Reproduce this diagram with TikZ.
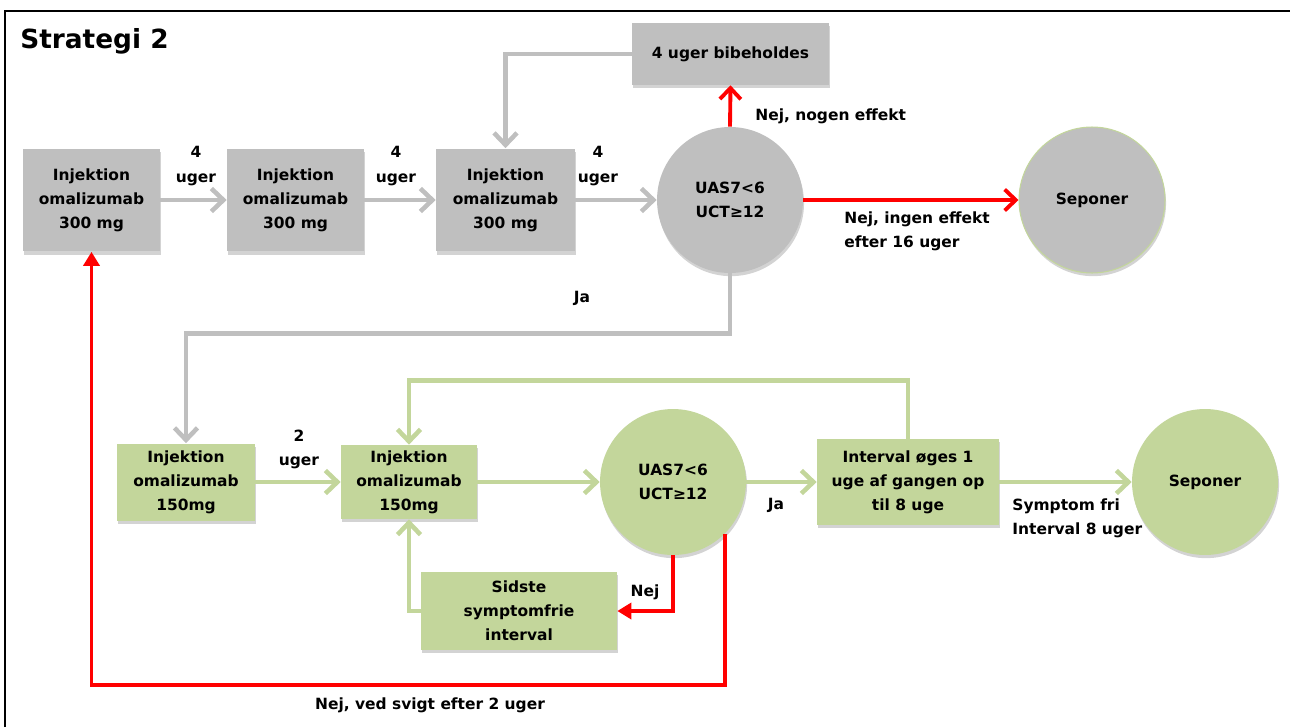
\documentclass[tikz,border=0pt]{standalone}
\usepackage{fontspec}
\setmainfont{DejaVu Sans}
\usepackage{tikz}
\usetikzlibrary{shadows, arrows.meta, positioning, shapes}

\definecolor{boxgray}{HTML}{BFBFBF}
\definecolor{boxgreen}{HTML}{C3D69B}
\definecolor{linered}{HTML}{FF0000}

\tikzset{
  lbl/.style={font=\fontsize{8.8}{13.7}\selectfont\bfseries, align=center, inner sep=0pt},
  graybox/.style={lbl, fill=boxgray, drop shadow={shadow xshift=0.6pt, shadow yshift=-1.8pt, opacity=0.35}},
  greenbox/.style={lbl, fill=boxgreen, drop shadow={shadow xshift=0.6pt, shadow yshift=-1.8pt, opacity=0.35}},
  graycirc/.style={graybox, circle, minimum size=2.92cm},
  greencirc/.style={greenbox, circle, minimum size=2.92cm},
  grayline/.style={draw=boxgray, line width=2.6pt, -{Straight Barb[length=2.4mm, width=4.6mm]}},
  greenline/.style={draw=boxgreen, line width=2.6pt, -{Straight Barb[length=2.4mm, width=4.6mm]}},
  redline/.style={draw=linered, line width=2.2pt, -{Straight Barb[length=2.2mm, width=4.2mm]}},
  redfill/.style={draw=linered, line width=2.2pt, -{Triangle[length=2.8mm, width=3.2mm]}}
}

\begin{document}
\begin{tikzpicture}[x=0.02cm, y=-0.02cm]
  \useasboundingbox (0,0) rectangle (1290,727);
  % frame
  \draw[line width=1.2pt] (5,727) -- (5,11) -- (1290,11);
  \node[anchor=base west, font=\fontsize{15}{18}\selectfont\bfseries, inner sep=0pt] (title) at (20,48) {Strategi 2};

  % upper part, 300 mg
  \node[graybox, minimum width=2.74cm, minimum height=2.06cm] (inj1) at (91.5,200) {Injektion\\omalizumab\\300 mg};
  \node[graybox, minimum width=2.74cm, minimum height=2.06cm] (inj2) at (295.5,200) {Injektion\\omalizumab\\300 mg};
  \node[graybox, minimum width=2.78cm, minimum height=2.06cm] (inj3) at (505.5,200) {Injektion\\omalizumab\\300 mg};
  \node[graycirc] (test1) at (730,200) {UAS7<6\\UCT≥12};
  \node[graybox, minimum width=3.94cm, minimum height=1.24cm] (keep) at (730.5,54) {4 uger bibeholdes};
  \node[graycirc, draw=boxgreen, line width=0.6pt] (stop1) at (1092,200) {Seponer};

  \node[lbl] (w1) at (196,166) {4\\uger};
  \node[lbl] (w2) at (396,166) {4\\uger};
  \node[lbl] (w3) at (598,166) {4\\uger};
  \node[lbl, anchor=west] (nogen) at (755,116) {Nej, nogen effekt};
  \node[lbl, anchor=west, align=left] (ingen) at (844,231) {Nej, ingen effekt\\efter 16 uger};
  \node[lbl] (ja1) at (582,298) {Ja};

  \draw[grayline] (inj1) -- (inj2);
  \draw[grayline] (inj2) -- (inj3);
  \draw[grayline] (inj3) -- (test1);
  \draw[redline] (test1.north) -- (keep.south);
  \draw[grayline] (keep.west) -| (inj3.north);
  \draw[redline] (test1.east) -- (stop1.west);

  % lower part, 150 mg
  \node[greenbox, minimum width=2.76cm, minimum height=1.54cm] (low1) at (186,482) {Injektion\\omalizumab\\150mg};
  \node[greenbox, minimum width=2.72cm, minimum height=1.48cm] (low2) at (409,482) {Injektion\\omalizumab\\150mg};
  \node[greencirc] (test2) at (673,482) {UAS7<6\\UCT≥12};
  \node[greenbox, minimum width=3.92cm, minimum height=1.56cm] (last) at (519,611) {Sidste\\symptomfrie\\interval};
  \node[greenbox, minimum width=3.64cm, minimum height=1.72cm] (incr) at (908,482) {Interval øges 1\\uge af gangen op\\til 8 uge};
  \node[greencirc] (stop2) at (1205,482) {Seponer};

  \node[lbl] (w4) at (299,449) {2\\uger};
  \node[lbl] (ja2) at (776,505) {Ja};
  \node[lbl, anchor=west, align=left] (fri) at (1012,518) {Symptom fri\\Interval 8 uger};
  \node[lbl] (nej) at (645,592) {Nej};
  \node[lbl] (svigt) at (430,705) {Nej, ved svigt efter 2 uger};

  \draw[grayline] (test1.south) -- ++(0,60) -| (low1.north);
  \draw[greenline] (low1) -- (low2);
  \draw[greenline] (low2) -- (test2);
  \draw[greenline] (test2) -- (incr);
  \draw[greenline] (incr) -- (stop2);
  \draw[greenline] (incr.north) -- ++(0,-58) -| (low2.north);
  \draw[greenline] (last.west) -| (low2.south);
  \draw[redfill] (test2.south) |- (last.east);
  \draw[redfill] (test2.-45) -- ++(0,151) -| (inj1.south);
\end{tikzpicture}
\end{document}
